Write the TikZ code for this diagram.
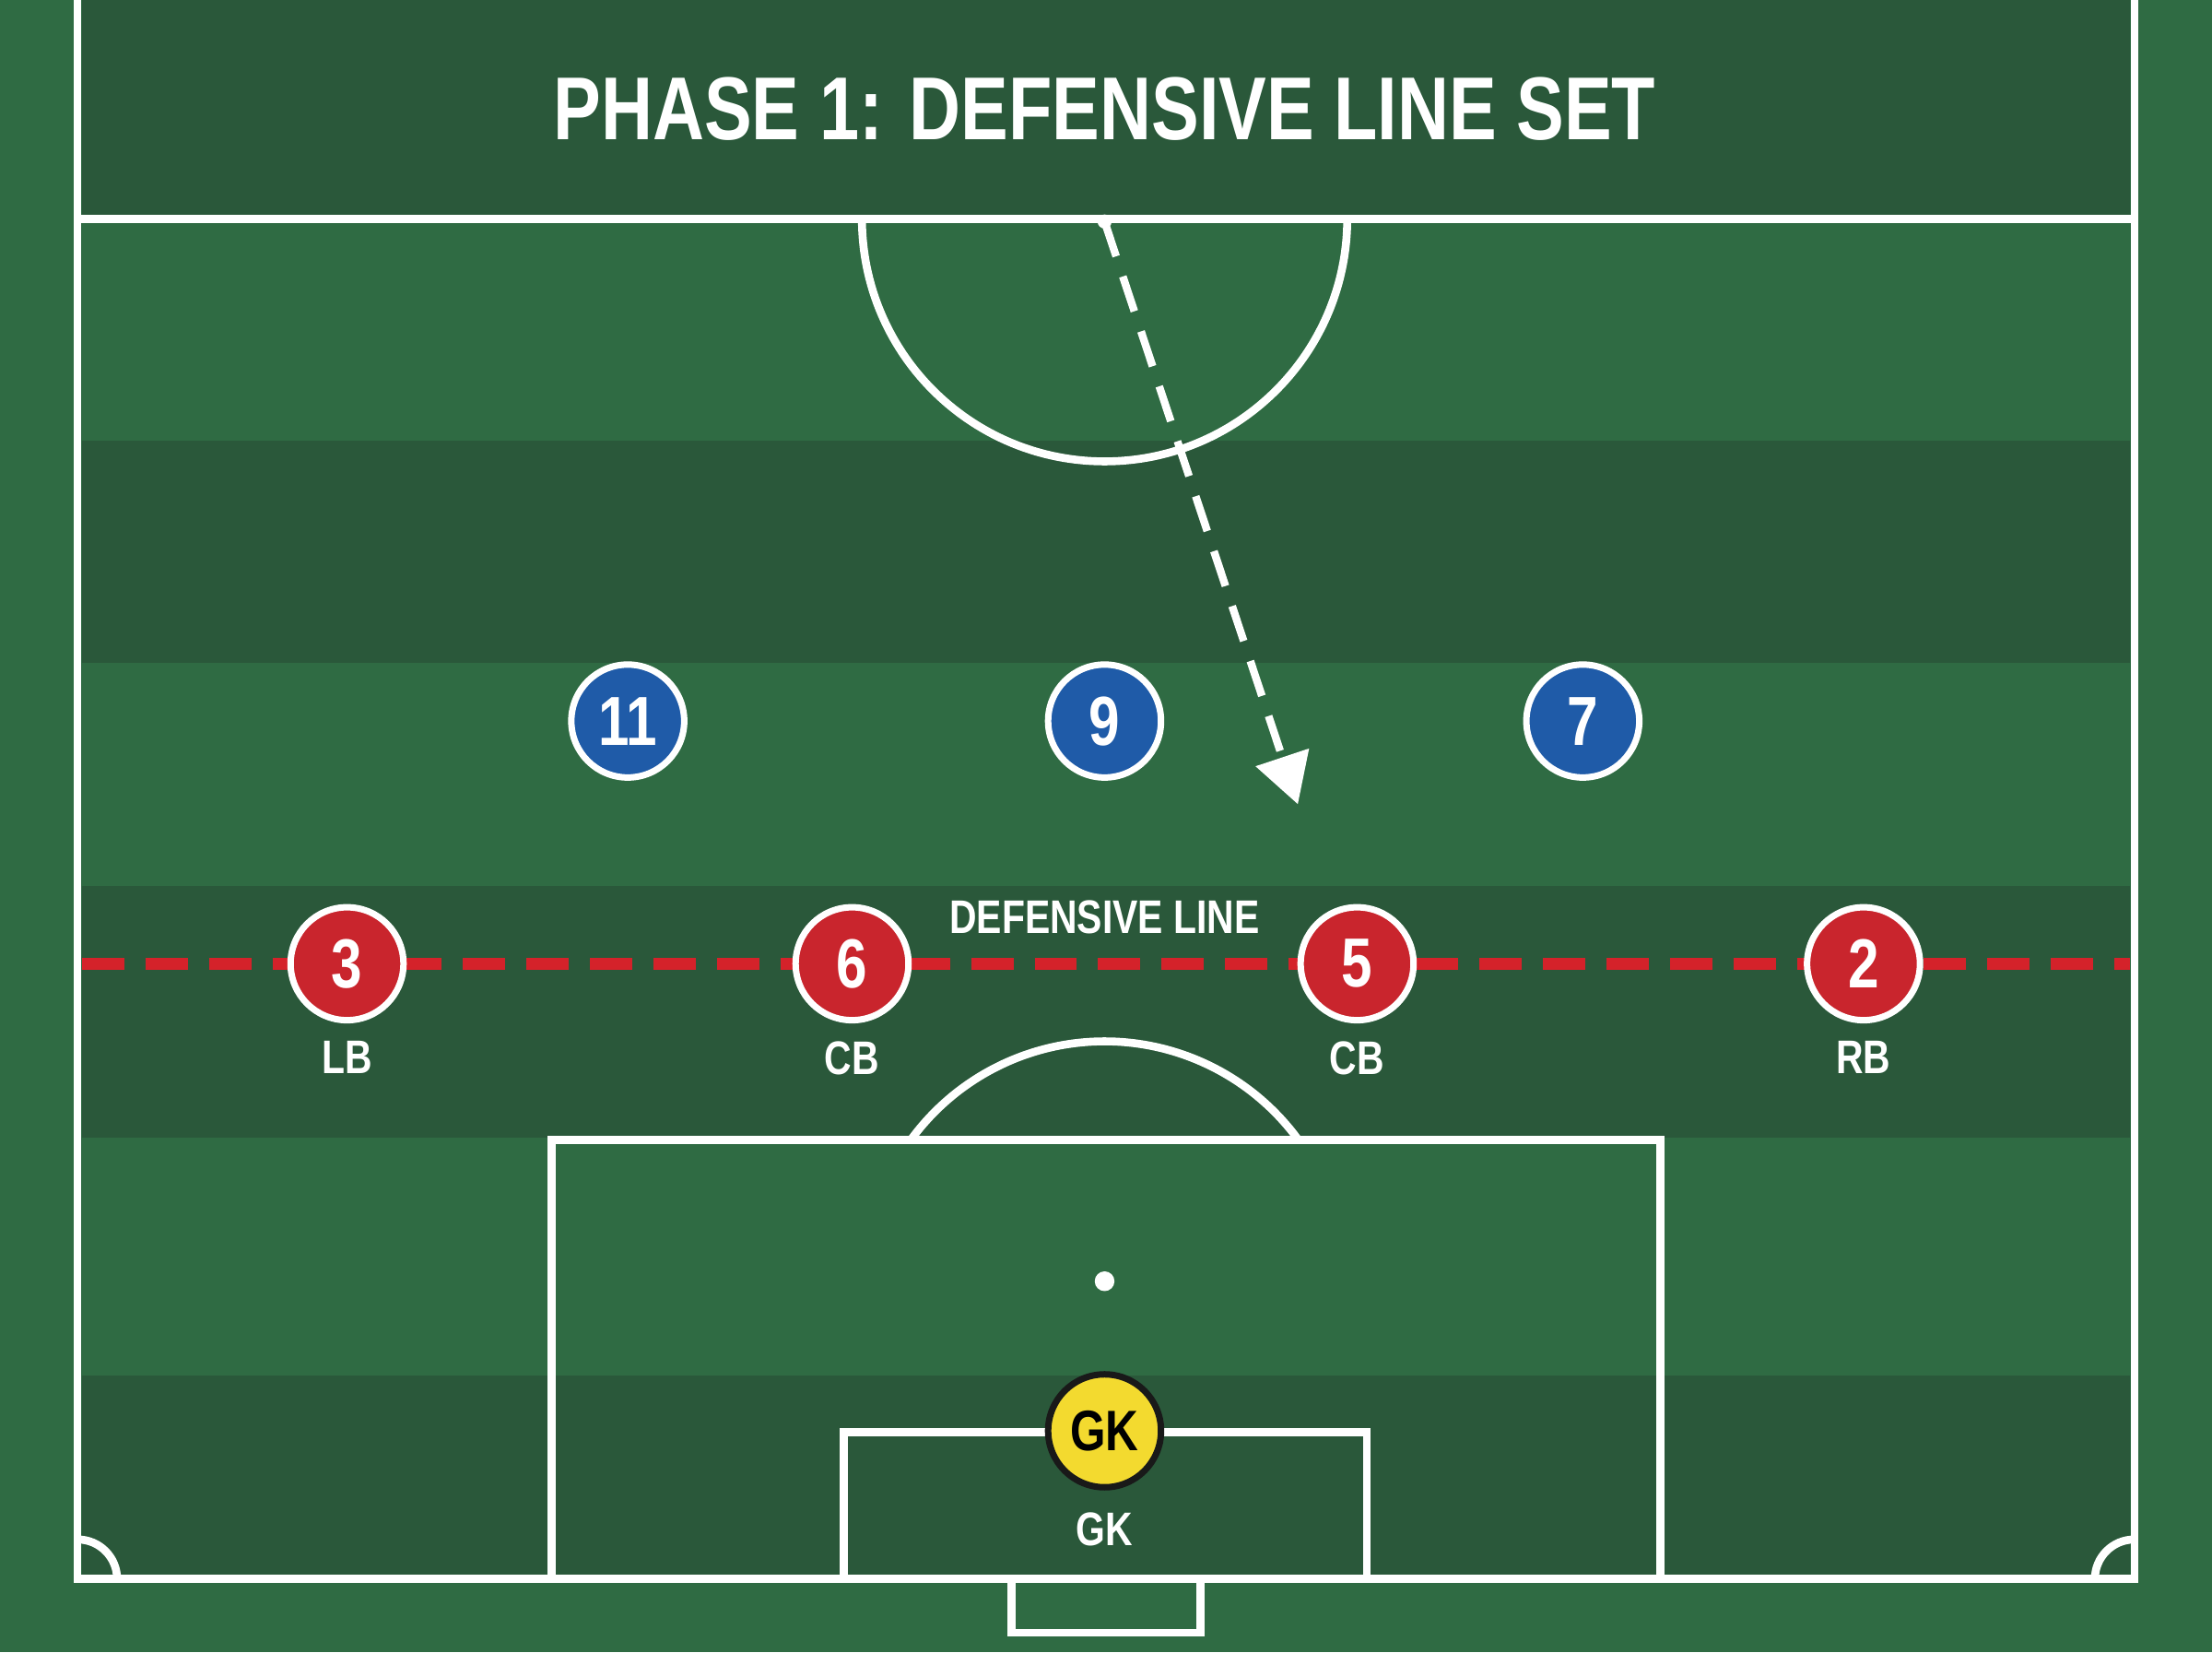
\documentclass[tikz,border=0pt]{standalone}
\usepackage{fontspec}
\newfontfamily\pitchfont[FakeStretch=0.8]{Liberation Sans}
\usetikzlibrary{positioning, arrows.meta}
\definecolor{grassLight}{HTML}{2F6B43}
\definecolor{grassDark}{HTML}{2A583A}
\definecolor{homeRed}{HTML}{C9252D}
\definecolor{lineRed}{HTML}{D4222A}
\definecolor{awayBlue}{HTML}{1F5BA8}
\definecolor{keeperYellow}{HTML}{F3DA2F}
\tikzset{
	pitch line/.style={white, line width=1.6pt},
	player/.style={circle, minimum size=0.8cm, inner sep=0pt, line width=1.3pt, text=white,
		font=\pitchfont\bfseries\fontsize{14}{14}\selectfont},
	defender/.style={player, draw=white, fill=homeRed},
	attacker/.style={player, draw=white, fill=awayBlue},
	keeper/.style={player, draw=black!90, fill=keeperYellow, text=black,
		font=\pitchfont\bfseries\fontsize{11.5}{12}\selectfont},
	role/.style={text=white, inner sep=0pt, font=\pitchfont\bfseries\fontsize{9.5}{10}\selectfont},
	run/.style={white, line width=1.55pt, dash pattern=on 0.26cm off 0.15cm,
		-{Triangle[length=0.35cm, width=0.385cm]}},
	back line/.style={lineRed, line width=2.3pt, dash pattern=on 0.3cm off 0.15cm},
}

\begin{document}
\begin{tikzpicture}[x=0.01cm, y=0.01cm]
	\useasboundingbox (0,0) rectangle (1568,1171);
	
	% grass and stripes
	\fill[grassLight] (0,0) rectangle (1568,1171);
	\fill[grassDark] (58,1016) rectangle (1510,1171);
	\foreach \ya/\yb in {701/859, 365/543, 52/196}
		\fill[grassDark] (58,\ya) rectangle (1510,\yb);
	
	% pitch markings
	\draw[pitch line] (55,1180) -- (55,52) -- (1513,52) -- (1513,1180);
	\draw[pitch line] (55,1016) -- (1513,1016);
	\draw[pitch line] (955,1016) arc(0:-180:172);
	\fill[white] (783,1014) circle(5);
	\draw[pitch line] (391,52) rectangle (1177,363);
	\draw[pitch line] ([shift={(36:170)}]783,263) arc(36:144:170);
	\fill[white] (783,263) circle(7);
	\draw[pitch line] (598,52) rectangle (969,156);
	\draw[pitch line] (717,52) rectangle (851,14);
	\draw[pitch line] (83,52) arc(0:90:28);
	\draw[pitch line] (1485,52) arc(180:90:28);
	
	\node[text=white, font=\pitchfont\bfseries\fontsize{18}{18}\selectfont] (title) at (783,1094) {PHASE 1: DEFENSIVE LINE SET};
	
	% striker run
	\coordinate (spot) at (783,1014);
	\coordinate (runEnd) at (920,601);
	\draw[run] (spot) -- (runEnd);
	
	% defensive line
	\coordinate (lineL) at (58,488);
	\coordinate (lineR) at (1510,488);
	\draw[back line] (lineL) -- (lineR);
	\node[role] (lineLabel) at (783,521) {DEFENSIVE LINE};
	
	\node[attacker] (p11) at (445,660) {11};
	\node[attacker] (p9) at (783,660) {9};
	\node[attacker] (p7) at (1122,660) {7};
	
	\node[defender] (p3) at (246,488) {3};
	\node[defender] (p6) at (604,488) {6};
	\node[defender] (p5) at (962,488) {5};
	\node[defender] (p2) at (1321,488) {2};
	\node[role, below=0.12cm of p3] {LB};
	\node[role, below=0.12cm of p6] {CB};
	\node[role, below=0.12cm of p5] {CB};
	\node[role, below=0.12cm of p2] {RB};
	
	\node[keeper] (gk) at (783,157) {GK};
	\node[role, below=0.15cm of gk] {GK};
\end{tikzpicture}
\end{document}
